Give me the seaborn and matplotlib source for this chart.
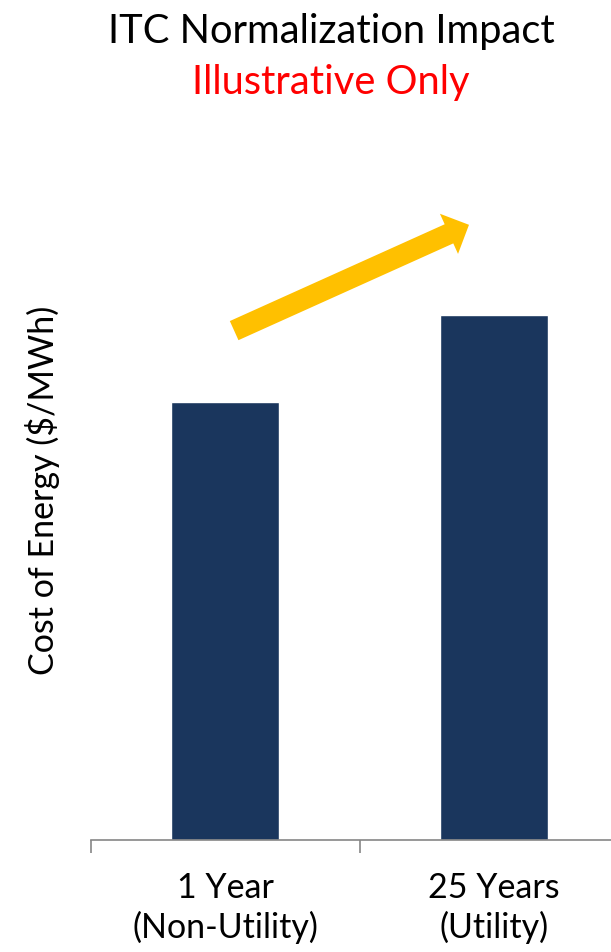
import matplotlib
matplotlib.use("Agg")
import matplotlib.pyplot as plt
from matplotlib.patches import FancyArrowPatch
import pandas as pd
import seaborn as sns

# Illustrative cost of energy under each ITC normalization period
periods = ["1 Year\n(Non-Utility)", "25 Years\n(Utility)"]
cost = [100, 120]

title = "ITC Normalization Impact"
subtitle = "Illustrative Only"
ylabel = "Cost of Energy ($/MWh)"

NAVY = "#1A365D"
GOLD = "#FFC000"
GRAY = "#868686"

sns.set_theme(style="white")
plt.rcParams["font.family"] = ["Lato", "DejaVu Sans"]

df = pd.DataFrame({"period": periods, "cost": cost})

fig = plt.figure(figsize=(6.11, 9.53), dpi=100)
ax = fig.add_axes([90.5 / 611, 112.5 / 953, 538 / 611, 699.5 / 953])

sns.barplot(data=df, x="period", y="cost", color=NAVY, width=0.4,
            saturation=1, ax=ax)

ax.set_xlim(-0.5, 1.5)
ax.set_ylim(0, 160)

for side in ["top", "right", "left"]:
    ax.spines[side].set_visible(False)
ax.spines["bottom"].set_color(GRAY)
ax.spines["bottom"].set_linewidth(1.2)

ax.set_yticks([])
ax.set_xlabel("")
ax.set_ylabel(ylabel, fontsize=24.5, color="black", labelpad=22)

# category labels centred under bars, separators at category edges
ax.set_xticks([0, 1])
ax.set_xticklabels(periods, fontsize=24.5, color="black", linespacing=1.25)
ax.tick_params(axis="x", which="major", length=0, pad=23)
ax.set_xticks([-0.5, 0.5, 1.5], minor=True)
ax.tick_params(axis="x", which="minor", length=9.5, width=1.2,
               color=GRAY, direction="out", bottom=True)

# upward trend arrow between the two bars
arrow = FancyArrowPatch(
    (0.034, 116.4), (0.907, 140.6),
    arrowstyle="simple,head_length=15.8,head_width=31.7,tail_width=15.1",
    mutation_scale=1, color=GOLD, shrinkA=0, shrinkB=0, lw=0,
    clip_on=False,
)
ax.add_patch(arrow)

fig.text(331 / 611, 1 - 43 / 953, title, fontsize=28.7, color="black",
         ha="center", va="baseline")
fig.text(331 / 611, 1 - 94 / 953, subtitle, fontsize=28.7, color="#FF0000",
         ha="center", va="baseline")

fig.savefig("out.png", dpi=100)
